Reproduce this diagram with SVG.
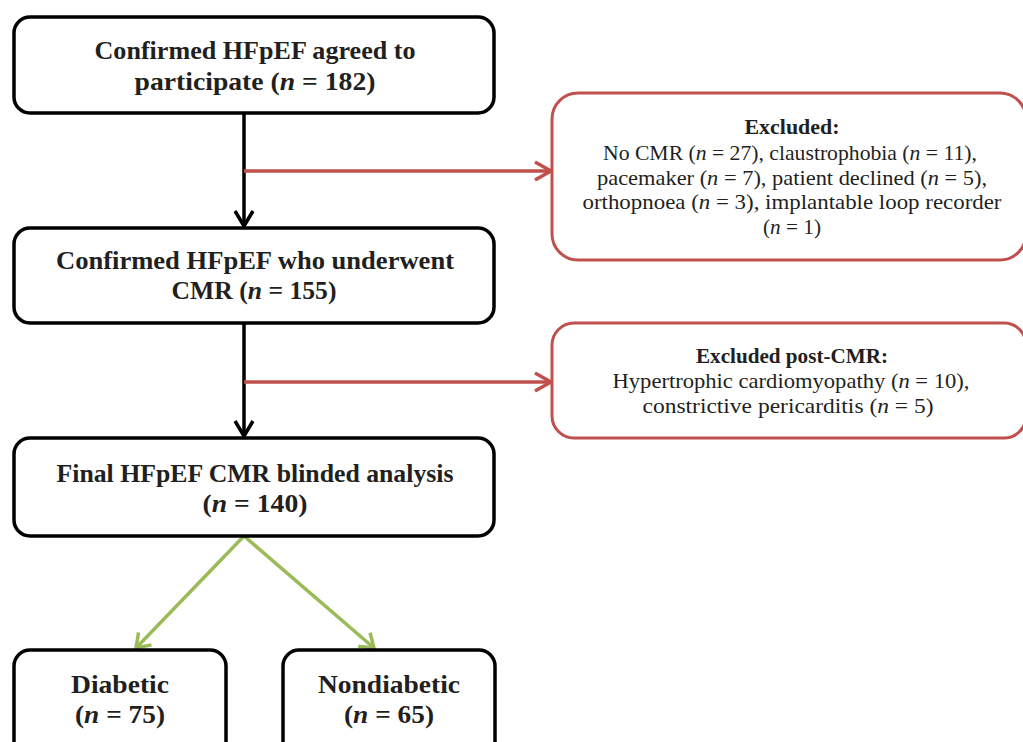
<svg xmlns="http://www.w3.org/2000/svg" width="1023" height="742" viewBox="0 0 1023 742">
<style>
.box{fill:#fff;stroke:#000;stroke-width:3.5}
.rbox{fill:#fff;stroke:#c0504d;stroke-width:3}
.t{font-family:"Liberation Serif",serif;fill:#231f20;text-anchor:middle}
.b{font-weight:bold;font-size:26px}
.r{font-size:21px}
.rb{font-weight:bold;font-size:21px}
.i{font-style:italic}
.blk{stroke:#000;stroke-width:3.5;fill:none}
.red{stroke:#c0504d;stroke-width:3.5;fill:none}
.grn{stroke:#9bbb59;stroke-width:3.5;fill:none}
</style>
<defs>
<marker id="ab" markerUnits="userSpaceOnUse" markerWidth="40" markerHeight="40" viewBox="-20 -20 40 40" refX="0" refY="0" orient="auto">
<path d="M-15,-9 L0,0 L-15,9" fill="none" stroke="#000" stroke-width="3.5"/>
</marker>
<marker id="ar" markerUnits="userSpaceOnUse" markerWidth="40" markerHeight="40" viewBox="-20 -20 40 40" refX="0" refY="0" orient="auto">
<path d="M-16,-9 L0,0 L-16,9" fill="none" stroke="#c0504d" stroke-width="3.5"/>
</marker>
<marker id="ag" markerUnits="userSpaceOnUse" markerWidth="40" markerHeight="40" viewBox="-20 -20 40 40" refX="0" refY="0" orient="auto">
<path d="M-13,-9 L0,0 L-13,9" fill="none" stroke="#9bbb59" stroke-width="3.5"/>
</marker>
</defs>
<g id="connectors">
<line class="blk" x1="244" y1="113" x2="244" y2="226" marker-end="url(#ab)"/>
<line class="red" x1="244" y1="171" x2="551" y2="171" marker-end="url(#ar)"/>
<line class="blk" x1="244" y1="323" x2="244" y2="436" marker-end="url(#ab)"/>
<line class="red" x1="244" y1="382" x2="551" y2="382" marker-end="url(#ar)"/>
<line class="grn" x1="244" y1="536" x2="136" y2="648" marker-end="url(#ag)"/>
<line class="grn" x1="244" y1="536" x2="374" y2="648" marker-end="url(#ag)"/>
</g>
<g id="n1">
<rect class="box" x="14" y="17" width="480" height="96" rx="16"/>
<text class="t b" x="255" y="59" textLength="321" lengthAdjust="spacingAndGlyphs">Confirmed HFpEF agreed to</text>
<text class="t b" x="255" y="90" textLength="241" lengthAdjust="spacingAndGlyphs">participate (<tspan class="i">n</tspan> = 182)</text>
</g>
<g id="n2">
<rect class="box" x="14" y="228" width="480" height="95" rx="16"/>
<text class="t b" x="255" y="269" textLength="398" lengthAdjust="spacingAndGlyphs">Confirmed HFpEF who underwent</text>
<text class="t b" x="254" y="299" textLength="165" lengthAdjust="spacingAndGlyphs">CMR (<tspan class="i">n</tspan> = 155)</text>
</g>
<g id="n3">
<rect class="box" x="14" y="438" width="480" height="98" rx="16"/>
<text class="t b" x="255" y="482" textLength="397" lengthAdjust="spacingAndGlyphs">Final HFpEF CMR blinded analysis</text>
<text class="t b" x="255" y="512" textLength="105" lengthAdjust="spacingAndGlyphs">(<tspan class="i">n</tspan> = 140)</text>
</g>
<g id="n4">
<rect class="box" x="14" y="650" width="212" height="110" rx="16"/>
<text class="t b" x="120" y="693" textLength="98" lengthAdjust="spacingAndGlyphs">Diabetic</text>
<text class="t b" x="120" y="723" textLength="90" lengthAdjust="spacingAndGlyphs">(<tspan class="i">n</tspan> = 75)</text>
</g>
<g id="n5">
<rect class="box" x="283" y="650" width="212" height="110" rx="16"/>
<text class="t b" x="389" y="693" textLength="142" lengthAdjust="spacingAndGlyphs">Nondiabetic</text>
<text class="t b" x="389" y="723" textLength="90" lengthAdjust="spacingAndGlyphs">(<tspan class="i">n</tspan> = 65)</text>
</g>
<g id="e1">
<rect class="rbox" x="552" y="93" width="474" height="167" rx="26"/>
<text class="t rb" x="792" y="134" textLength="95" lengthAdjust="spacingAndGlyphs">Excluded:</text>
<text class="t r" x="790" y="160" textLength="374" lengthAdjust="spacingAndGlyphs">No CMR (<tspan class="i">n</tspan> = 27), claustrophobia (<tspan class="i">n</tspan> = 11),</text>
<text class="t r" x="792" y="185" textLength="390" lengthAdjust="spacingAndGlyphs">pacemaker (<tspan class="i">n</tspan> = 7), patient declined (<tspan class="i">n</tspan> = 5),</text>
<text class="t r" x="792" y="209" textLength="419" lengthAdjust="spacingAndGlyphs">orthopnoea (<tspan class="i">n</tspan> = 3), implantable loop recorder</text>
<text class="t r" x="792" y="234" textLength="58" lengthAdjust="spacingAndGlyphs">(<tspan class="i">n</tspan> = 1)</text>
</g>
<g id="e2">
<rect class="rbox" x="552" y="323" width="474" height="115" rx="22"/>
<text class="t rb" x="792" y="363" textLength="192" lengthAdjust="spacingAndGlyphs">Excluded post-CMR:</text>
<text class="t r" x="791" y="388" textLength="357" lengthAdjust="spacingAndGlyphs">Hypertrophic cardiomyopathy (<tspan class="i">n</tspan> = 10),</text>
<text class="t r" x="788" y="413" textLength="291" lengthAdjust="spacingAndGlyphs">constrictive pericarditis (<tspan class="i">n</tspan> = 5)</text>
</g>
</svg>
